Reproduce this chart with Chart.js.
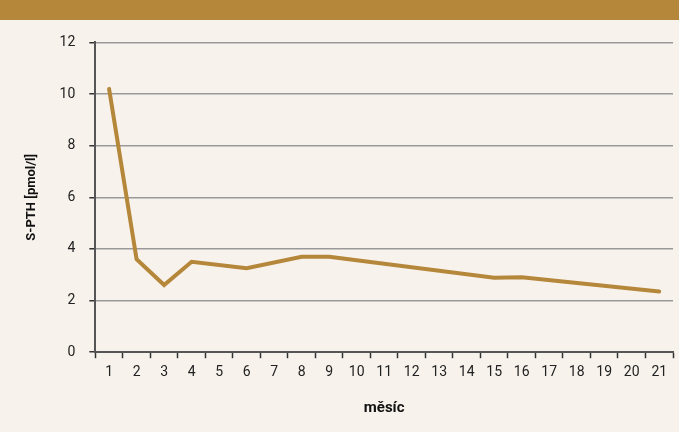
<!DOCTYPE html>
<html>
<head>
<meta charset="utf-8">
<script src="https://cdn.jsdelivr.net/npm/chart.js@4"></script>
<style>
  html, body { margin: 0; padding: 0; background: #f8f2ec; }
  #bar { height: 20px; background: #b5873b; }
  #wrap { width: 679px; height: 412px; }
</style>
</head>
<body>
<div id="bar"></div>
<div id="wrap"><canvas id="chart"></canvas></div>
<script>
// months on the x axis
const months = ['1','2','3','4','5','6','7','8','9','10','11','12','13','14','15','16','17','18','19','20','21'];
const pth = [10.2, 3.6, 2.6, 3.5, null, 3.25, null, 3.7, 3.7, null, null, null, null, null, 2.88, 2.9, null, null, null, null, 2.35];
const yTicks = [0, 2, 4, 6, 8, 10, 12];

const brown = '#b5873b';

new Chart(document.getElementById('chart'), {
    type: 'line',
    data: {
        labels: months,
        datasets: [{
            label: 'S-PTH',
            data: pth,
            borderColor: brown,
            borderWidth: 4,
            pointRadius: 0,
            spanGaps: true,
            tension: 0,
            borderCapStyle: 'round'
        }]
    },
    options: {
        responsive: true,
        maintainAspectRatio: false,
        animation: false,
        layout: { padding: { top: 8, right: 6, left: 20, bottom: 11 } },
        plugins: { legend: { display: false }, tooltip: { enabled: false } },
        scales: {
            x: {
                offset: true,
                grid: {
                    offset: true,
                    drawOnChartArea: false,
                    drawTicks: true,
                    tickLength: 6,
                    tickColor: '#333',
                    tickWidth: 1.5
                },
                border: { color: '#555', width: 2 },
                ticks: { color: '#222', font: { family: 'Roboto', size: 14 }, padding: 6, maxRotation: 0, autoSkip: false },
                title: {
                    display: true,
                    text: 'měsíc',
                    color: '#111',
                    font: { family: 'Roboto', size: 15, weight: 'bold' },
                    padding: { top: 12 }
                }
            },
            y: {
                min: 0,
                max: 12,
                afterBuildTicks: axis => { axis.ticks = yTicks.map(v => ({ value: v })); },
                grid: {
                    color: '#999',
                    lineWidth: 1.5,
                    tickLength: 6,
                    tickColor: '#333'
                },
                border: { color: '#555', width: 2 },
                ticks: { color: '#222', font: { family: 'Roboto', size: 14 }, padding: 14 },
                title: {
                    display: true,
                    text: 'S-PTH [pmol/l]',
                    color: '#111',
                    font: { family: 'Roboto', size: 13, weight: 'bold' },
                    padding: { bottom: 6 }
                }
            }
        }
    }
});
</script>
</body>
</html>
